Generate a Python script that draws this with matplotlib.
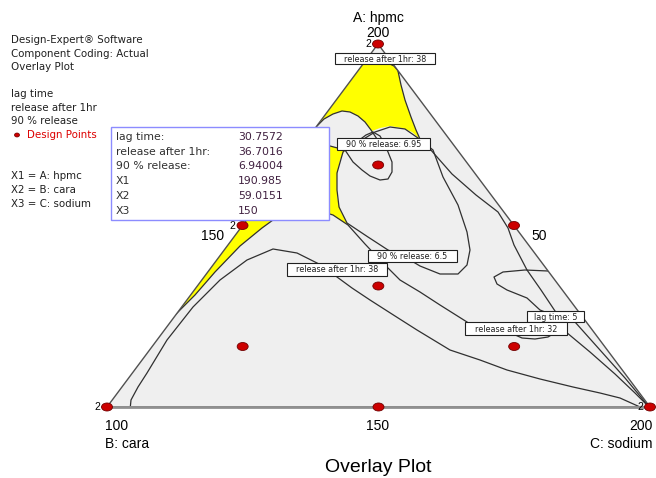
import matplotlib

matplotlib.use("Agg")
import matplotlib.pyplot as plt
from matplotlib.patches import Ellipse, Polygon, Rectangle

plt.rcParams["font.family"] = ["Liberation Sans", "DejaVu Sans"]

# --- design points: component fractions (A: hpmc, B: cara, C: sodium)
point_a = [1, 0, 0, 1 / 2, 1 / 2, 0, 1 / 3, 2 / 3, 1 / 6, 1 / 6]
point_b = [0, 1, 0, 1 / 2, 0, 1 / 2, 1 / 3, 1 / 6, 2 / 3, 1 / 6]
point_c = [0, 0, 1, 0, 1 / 2, 1 / 2, 1 / 3, 1 / 6, 1 / 6, 2 / 3]
point_reps = [2, 2, 2, 2, 1, 1, 1, 1, 1, 1]

# --- contour traces (plot units)
cap_38 = [(352, 60), (365, 64), (372, 62.5), (380, 62), (388, 63), (394, 66), (400, 73)]
upper_695 = [(398, 71), (401, 85), (405, 100), (411, 117), (416, 130), (420, 139), (430, 149),
             (452, 174), (476, 195), (498, 212), (508, 228), (514, 245), (527, 270), (541, 290), (555, 311)]
bump = [(305, 133), (316, 127), (324, 119), (333, 114), (342, 111), (350, 112), (358, 116),
        (365, 122), (371, 130), (377, 139)]
loop_65 = [(362, 140), (375, 132), (390, 127), (405, 129), (418, 138), (433, 150), (443, 177),
           (458, 205), (467, 232), (470, 250), (467, 265), (458, 274), (440, 274), (420, 266),
           (410, 260), (400, 255), (388, 250), (368, 237), (347, 223), (339, 207), (337, 190),
           (337, 173), (343, 152), (352, 144), (362, 140)]
tear_695 = [(318, 141), (330, 146), (345, 150), (353, 162), (362, 170), (370, 176), (380, 180),
            (388, 179), (392, 172), (392, 162), (388, 152), (384, 143), (380, 136), (373, 132),
            (366, 135), (358, 141), (345, 150)]
lower_yellow = [(170, 320), (182, 308), (195, 295), (215, 272), (240, 246), (262, 228), (273, 220),
                (290, 212), (310, 208), (333, 215), (348, 225), (365, 244), (382, 262), (400, 280),
                (420, 292), (440, 305), (467, 322)]
arch_38 = [(130, 410), (131, 400), (138, 387), (147, 373), (167, 340), (193, 307), (220, 280),
           (247, 260), (273, 249), (297, 253), (317, 263), (330, 270), (337, 277), (352, 288),
           (370, 300), (395, 316), (417, 330), (450, 350), (480, 360), (507, 370), (540, 379),
           (573, 387), (600, 393), (620, 398), (640, 407)]
right_32 = [(566, 332), (590, 352), (615, 374), (635, 393), (650, 408)]
lag_5 = [(560, 271), (548, 271), (525, 270), (503, 272), (494, 277), (497, 284), (507, 290),
         (527, 298), (540, 310), (560, 318), (575, 322), (600, 350), (625, 378), (650, 408)]
lag_dip = [(513, 334), (522, 338), (535, 339), (548, 337), (553, 334)]
contours = [cap_38, upper_695, bump, loop_65, tear_695, lower_yellow, arch_38, right_32, lag_5, lag_dip]

yellow_top = [(300, 130), (352, 60), (365, 64), (372, 62.5), (380, 62), (388, 63), (394, 66),
              (398, 71), (401, 85), (405, 100), (411, 117), (416, 130), (420, 139), (412, 132),
              (402, 128), (390, 126), (380, 128), (372, 131), (371, 130), (365, 122), (358, 116),
              (350, 112), (342, 111), (333, 114), (324, 119), (316, 127)]
yellow_left = [(316, 127), (330, 146), (345, 150), (340, 160), (337, 175), (337, 197), (341, 212),
               (348, 225), (333, 215), (310, 208), (290, 212), (273, 220), (262, 228), (240, 246),
               (215, 272), (195, 295), (182, 308), (165, 310), (300, 120)]

flags = [
    ("release after 1hr: 38", 335, 53, 435, 64),
    ("90 % release: 6.95", 337, 138, 430, 150),
    ("90 % release: 6.5", 368, 250, 457, 262),
    ("release after 1hr: 38", 287, 263, 387, 276),
    ("lag time: 5", 527, 311, 584, 322),
    ("release after 1hr: 32", 465, 322, 567, 335),
]

popup_names = ["lag time:", "release after 1hr:", "90 % release:", "X1", "X2", "X3"]
popup_values = ["30.7572", "36.7016", "6.94004", "190.985", "59.0151", "150"]

info_lines = ["Design-Expert\u00ae Software", "Component Coding: Actual", "Overlay Plot", "",
              "lag time", "release after 1hr", "90 % release"]
coding_lines = ["X1 = A: hpmc", "X2 = B: cara", "X3 = C: sodium"]

TOP, LEFT, RIGHT = (378, 44), (107, 407), (650, 407)
SMALL = ["DejaVu Sans"]


def to_xy(a, b, c):
    x = a * TOP[0] + b * LEFT[0] + c * RIGHT[0]
    y = a * TOP[1] + b * LEFT[1] + c * RIGHT[1]
    return x, y


fig = plt.figure(figsize=(6.56, 4.78), dpi=100)
ax = fig.add_axes([0, 0, 1, 1])
ax.set_xlim(0, 656)
ax.set_ylim(478, 0)
ax.axis("off")

tri = Polygon([TOP, LEFT, RIGHT], closed=True, facecolor="#efefef", edgecolor="none", zorder=1)
ax.add_patch(tri)

for poly in (yellow_top, yellow_left):
    p = Polygon(poly, closed=True, facecolor="#ffff00", edgecolor="none", zorder=2)
    ax.add_patch(p)
    p.set_clip_path(tri)

for cur in contours:
    xs, ys = zip(*cur)
    (ln,) = ax.plot(xs, ys, color="#303030", lw=0.9, zorder=3)
    ln.set_clip_path(tri)

ax.add_patch(Polygon([TOP, LEFT, RIGHT], closed=True, facecolor="none",
                     edgecolor="#505050", lw=1.0, zorder=4))
ax.plot([LEFT[0], RIGHT[0]], [LEFT[1], RIGHT[1]], color="#909090", lw=2.0, zorder=4)

for a, b, c, n in zip(point_a, point_b, point_c, point_reps):
    x, y = to_xy(a, b, c)
    ax.add_patch(Ellipse((x, y), 11, 8, facecolor="#cc0000", edgecolor="#700000",
                         lw=0.6, zorder=5))
    if n > 1:
        ax.text(x - 7, y, str(n), fontsize=7.5, ha="right", va="center", zorder=5)

for label, x0, y0, x1, y1 in flags:
    ax.add_patch(Rectangle((x0, y0), x1 - x0, y1 - y0, facecolor="white",
                           edgecolor="#202020", lw=0.8, zorder=6))
    ax.text((x0 + x1) / 2, (y0 + y1) / 2 + 0.5, label, fontsize=5.8, family=SMALL,
            ha="center", va="center", color="#202020", zorder=7)

# popup box
ax.add_patch(Rectangle((111, 127), 218, 93, facecolor="white", edgecolor="#8c8cff",
                       lw=1.0, zorder=8))
for i, (name, val) in enumerate(zip(popup_names, popup_values)):
    y = 137 + i * 14.7
    ax.text(116, y, name, fontsize=7.8, family=SMALL, ha="left", va="center",
            color="#303030", zorder=9)
    ax.text(238, y, val, fontsize=7.8, family=SMALL, ha="left", va="center",
            color="#402040", zorder=9)

# axis annotations
ax.text(378, 18, "A: hpmc", fontsize=10, ha="center", va="center")
ax.text(378, 33, "200", fontsize=10, ha="center", va="center")
ax.text(224, 236, "150", fontsize=10, ha="right", va="center")
ax.text(531, 236, "50", fontsize=10, ha="left", va="center")
ax.text(105, 426, "100", fontsize=10, ha="left", va="center")
ax.text(105, 444, "B: cara", fontsize=10, ha="left", va="center")
ax.text(378, 426, "150", fontsize=10, ha="center", va="center")
ax.text(653, 426, "200", fontsize=10, ha="right", va="center")
ax.text(653, 444, "C: sodium", fontsize=10, ha="right", va="center")
ax.text(378, 467, "Overlay Plot", fontsize=14, ha="center", va="center")

# left legend block
for i, line in enumerate(info_lines):
    ax.text(11, 40 + i * 13.5, line, fontsize=7.4, family=SMALL, ha="left", va="center",
            color="#202020")
ax.add_patch(Ellipse((17, 135), 5, 4, facecolor="#cc0000", edgecolor="#700000", lw=0.5))
ax.text(27, 135, "Design Points", fontsize=7.4, family=SMALL, ha="left", va="center",
        color="#dd0000")
for i, line in enumerate(coding_lines):
    ax.text(11, 176 + i * 14, line, fontsize=7.4, family=SMALL, ha="left", va="center",
            color="#202020")

fig.savefig("out.png", dpi=100)
